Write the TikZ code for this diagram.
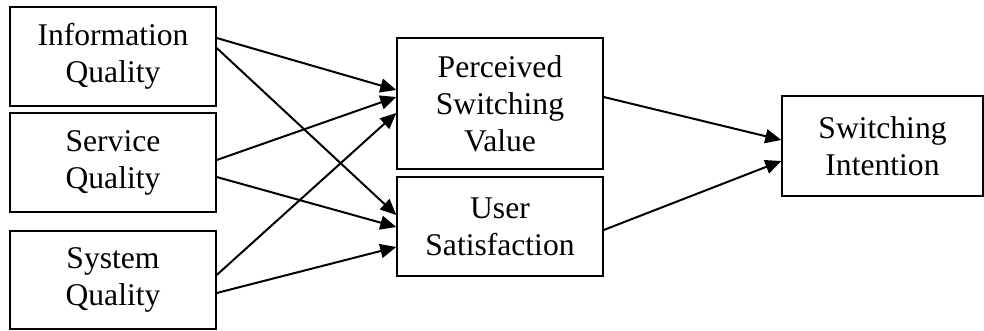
\documentclass[tikz,border=0pt]{standalone}
\usepackage{fontspec}
\setmainfont{Liberation Serif}
\usetikzlibrary{arrows.meta}
\begin{document}
\begin{tikzpicture}[x=1pt,y=1pt,
  box/.style={draw, line width=1.4pt, inner sep=0pt, align=center,
    font=\fontsize{31.6}{37}\selectfont},
  link/.style={line width=2pt, -{Triangle[length=16pt,width=14pt]}}]
  \useasboundingbox (0,0) rectangle (984,330);
  % input constructs
  \node[box, minimum width=206pt, minimum height=99pt] (info) at (113,273.5) {Information\\Quality};
  \node[box, minimum width=206pt, minimum height=99pt] (serv) at (113,167.5) {Service\\Quality};
  \node[box, minimum width=206pt, minimum height=98pt] (sys) at (113,50) {System\\Quality};
  % mediators
  \node[box, minimum width=206pt, minimum height=131pt] (psv) at (500,226.5) {Perceived\\Switching\\Value};
  \node[box, minimum width=206pt, minimum height=99pt] (us) at (500,103.5) {User\\Satisfaction};
  % outcome
  \node[box, minimum width=201pt, minimum height=100pt] (si) at (882.5,184) {Switching\\Intention};
  % paths
  \draw[link] ([yshift=18.5pt]info.east) -- ([yshift=13.5pt]psv.west);
  \draw[link] ([yshift=8.5pt]info.east) -- ([yshift=11.5pt]us.west);
  \draw[link] ([yshift=2.5pt]serv.east) -- ([yshift=6.5pt]psv.west);
  \draw[link] ([yshift=-14.5pt]serv.east) -- ([yshift=-0.5pt]us.west);
  \draw[link] ([yshift=5pt]sys.east) -- ([yshift=-9.5pt]psv.west);
  \draw[link] ([yshift=-13pt]sys.east) -- ([yshift=-20.5pt]us.west);
  \draw[link] ([yshift=6.5pt]psv.east) -- ([yshift=6pt]si.west);
  \draw[link] ([yshift=-3.5pt]us.east) -- ([yshift=-15pt]si.west);
\end{tikzpicture}
\end{document}
